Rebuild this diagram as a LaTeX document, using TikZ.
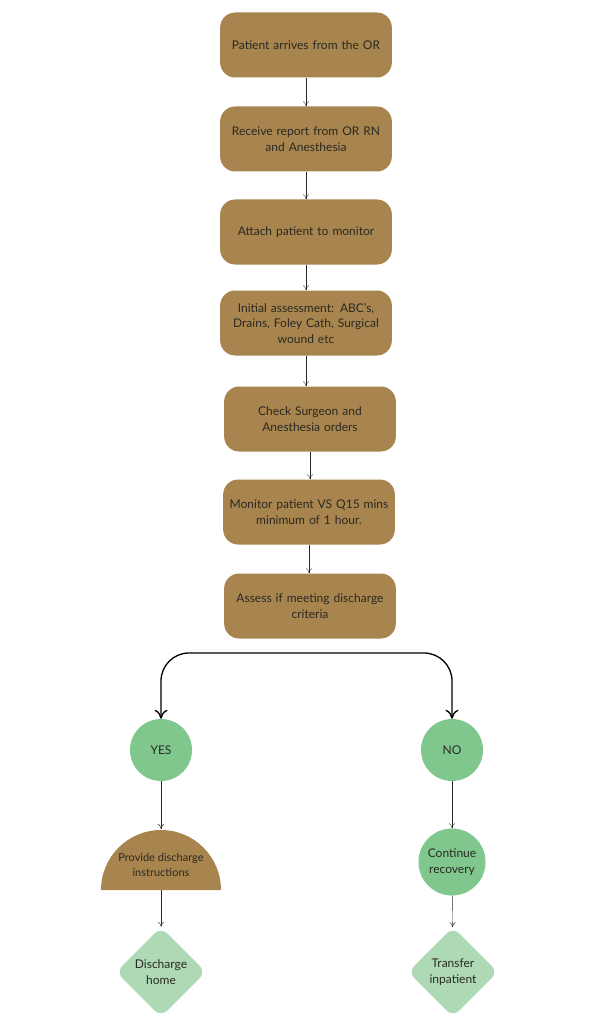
\documentclass[tikz,border=0pt]{standalone}
\usepackage{fontspec}
\setmainfont{Lato}
\usetikzlibrary{arrows.meta,shapes.geometric}
\definecolor{stepbrown}{HTML}{A8844E}
\definecolor{circgreen}{HTML}{80C78E}
\definecolor{diagreen}{HTML}{AED9B5}
\definecolor{inkdark}{HTML}{2A2A22}
\tikzset{>={To[length=5pt,width=6pt]},
	stepbox/.style={fill=stepbrown, rounded corners=15pt, minimum width=169pt, minimum height=65pt, text width=165pt, align=center, text=inkdark, font=\fontsize{12}{15.5}\selectfont},
	answer/.style={circle, fill=circgreen, minimum size=62pt, inner sep=0pt, align=center, text=inkdark, font=\fontsize{12}{15.5}\selectfont},
	outcome/.style={diamond, aspect=1, fill=diagreen, rounded corners=9pt, minimum size=90pt, inner sep=0pt, align=center, text=inkdark, font=\fontsize{12}{15.5}\selectfont},
	link/.style={->, draw=inkdark, thin}}

\begin{document}
\begin{tikzpicture}[x=1pt,y=-1pt]
		\useasboundingbox (0,0) rectangle (614,1024);
		% main column
		\node[stepbox] (arrive) at (306,45) {Patient arrives from the OR};
		\node[stepbox] (report) at (306,139) {Receive report from OR RN\\and Anesthesia};
		\node[stepbox] (attach) at (306,232) {Attach patient to monitor};
		\node[stepbox] (assess) at (306,323) {Initial assessment: ABC’s,\\Drains, Foley Cath, Surgical\\wound etc};
		\node[stepbox] (orders) at (310,419) {Check Surgeon and\\Anesthesia orders};
		\node[stepbox] (vitals) at (309,512) {Monitor patient VS Q15 mins\\minimum of 1 hour.};
		\node[stepbox] (criteria) at (310,606) {Assess if meeting discharge\\criteria};
		\foreach \a/\b in {arrive/report,report/attach,attach/assess,assess/orders,orders/vitals,vitals/criteria}
		\draw[link] (\a.south) -- (\a.south |- \b.north);
		% split
		\node[answer] (yes) at (161,750) {YES};
		\node[answer] (no) at (452,750) {NO};
		\coordinate (split) at (306,653);
		\draw[<->, >={To[length=9pt,width=13pt]}, line width=1.3pt, rounded corners=28pt, draw=black] (yes) |- (split) -| (no);
		% yes branch
		\fill[stepbrown] (101,890) arc[start angle=180, end angle=360, radius=60] -- cycle;
		\node[align=center, text=inkdark, font=\fontsize{11}{15}\selectfont] (instruct) at (161,865) {Provide discharge\\instructions};
		\coordinate (halftop) at (161,829);
		\coordinate (halfbase) at (161,890);
		\node[outcome] (home) at (161,972) {Discharge\\home};
		\draw[link] (yes) -- (halftop);
		\draw[link] (halfbase) -- (home);
		% no branch
		\node[answer, minimum size=67pt] (recover) at (452,862) {Continue\\recovery};
		\node[outcome] (transfer) at (453,972) {Transfer\\inpatient};
		\draw[link] (no) -- (recover);
		\draw[link] (recover) -- (transfer);
	\end{tikzpicture}
\end{document}
